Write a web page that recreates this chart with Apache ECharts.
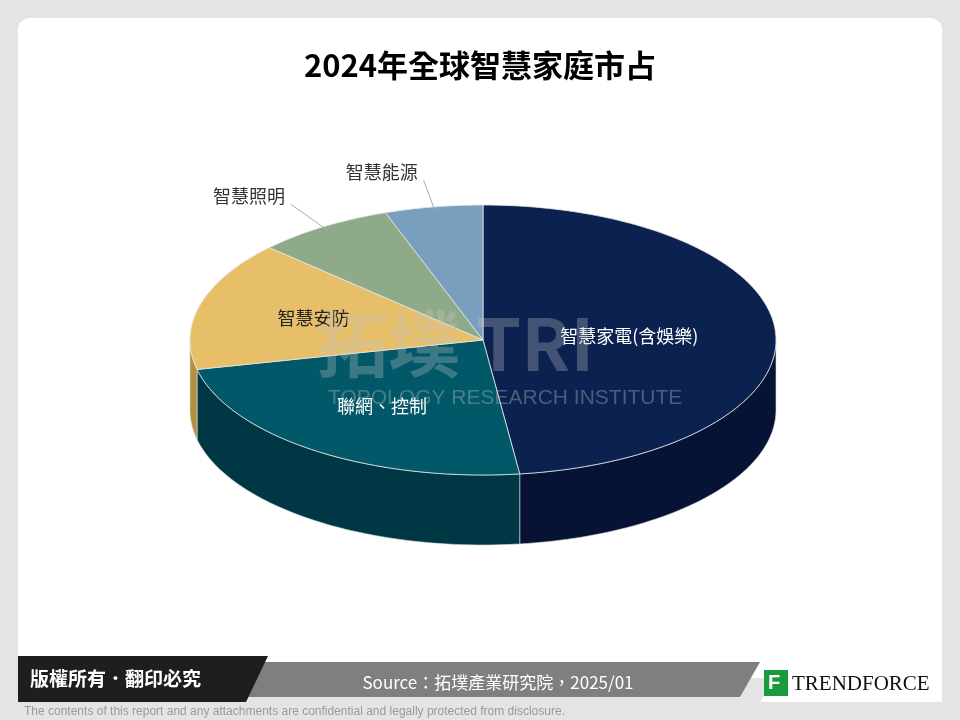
<!DOCTYPE html>
<html><head><meta charset="utf-8">
<script src="https://cdn.jsdelivr.net/npm/echarts@6/dist/echarts.min.js"></script>
<style>html,body{margin:0;padding:0;background:#e4e4e4}#c{width:960px;height:720px}</style>
</head><body><div id="c"></div>
<script>
const categories = ['智慧家電(含娛樂)', '聯網、控制', '智慧安防', '智慧照明', '智慧能源'];
const shares = [48, 23.5, 15.5, 7.6, 5.4];
const topColors = ['#0b2150', '#005868', '#e7bf68', '#8eaa88', '#78a0be'];
const sideColors = ['#061334', '#003744', '#b38f42', '#62805d', '#4f7592'];
const labelColors = ['#ffffff', '#ffffff', '#222222', '#222222', '#222222'];

const chart = echarts.init(document.getElementById('c'));
const total = shares.reduce((a, b) => a + b, 0);
const cum = [0];
shares.forEach((v, i) => cum.push(cum[i] + v));
const CX = 483, CY = 340, RX = 293, RY = 135, DEPTH = 70;
const pt = (t, dy, f) => [CX + (f || 1) * RX * Math.sin(t), CY - (f || 1) * RY * Math.cos(t) + (dy || 0)];

function renderItem(params, api) {
  const i = params.dataIndex;
  const s = cum[i] / total * Math.PI * 2, e = cum[i + 1] / total * Math.PI * 2;
  const children = [];
  const a = Math.max(s, Math.PI / 2), b = Math.min(e, Math.PI * 1.5);
  if (b > a) {
    const top = [], bot = [];
    const n = 60;
    for (let k = 0; k <= n; k++) { const t = a + (b - a) * k / n; top.push(pt(t)); bot.push(pt(t, DEPTH)); }
    children.push({ type: 'polygon', shape: { points: top.concat(bot.reverse()) },
      style: { fill: sideColors[i], stroke: '#d8d8d8', lineWidth: 0.6 } });
  }
  const pts = [[CX, CY]];
  const n = Math.max(8, Math.round((e - s) * 40));
  for (let k = 0; k <= n; k++) pts.push(pt(s + (e - s) * k / n));
  children.push({ type: 'polygon', shape: { points: pts }, style: { fill: topColors[i], stroke: '#e6e6e6', lineWidth: 0.8 } });
  const m = (s + e) / 2;
  const pct = shares[i] / total;
  if (pct >= 0.1) {
    const p = pt(m, 0, pct > 0.4 ? 0.5 : 0.6);
    children.push({ type: 'text', x: p[0], y: p[1], z2: 5, style: { text: categories[i], fill: labelColors[i],
      font: '18px "Noto Sans CJK TC"', align: 'center', verticalAlign: 'middle' } });
  } else {
    const p0 = pt(m, 0, 0.97), p1 = pt(m, 0, 1.2);
    children.push({ type: 'polyline', shape: { points: [p0, p1] }, style: { stroke: '#aaaaaa', lineWidth: 1 } });
    children.push({ type: 'text', x: p1[0] - 6, y: p1[1] - 8, style: { text: categories[i], fill: '#333',
      font: '18px "Noto Sans CJK TC"', align: 'right', verticalAlign: 'middle' } });
  }
  return { type: 'group', children };
}

chart.setOption({
  animation: false,
  graphic: [
    { type: 'rect', z: -10, shape: { x: 18, y: 18, width: 924, height: 660, r: 12 }, style: { fill: '#ffffff' } },
    { type: 'text', left: 'center', top: 50, style: { text: '2024年全球智慧家庭市占', fill: '#000',
      font: 'bold 31px "Noto Sans CJK TC"' } },
    { type: 'text', x: 316, y: 308, z: 100, silent: true, style: { text: '拓墣 TRI', fill: 'rgba(200,200,200,0.3)', font: 'bold 72px "Noto Sans CJK TC"' } },
    { type: 'text', x: 328, y: 388, z: 100, silent: true, style: { text: 'TOPOLOGY RESEARCH INSTITUTE', fill: 'rgba(200,200,200,0.35)', font: '21px "Liberation Sans"' } },
    { type: 'polygon', shape: { points: [[250, 662], [760, 662], [740, 697], [232, 697]] }, style: { fill: '#7f7f7f' } },
    { type: 'polygon', shape: { points: [[18, 656], [268, 656], [246, 702], [18, 702]] }, style: { fill: '#1e1e1e' } },
    { type: 'text', x: 30, y: 679, style: { text: '版權所有．翻印必究', fill: '#fff', font: 'bold 19px "Noto Sans CJK TC"', verticalAlign: 'middle' } },
    { type: 'text', x: 498, y: 683, style: { text: 'Source：拓墣產業研究院，2025/01', fill: '#fff', font: '17px "Noto Sans CJK TC"', align: 'center', verticalAlign: 'middle' } },
    { type: 'polygon', shape: { points: [[800, 640], [942, 640], [942, 702], [760, 702]] }, style: { fill: '#ffffff' } },
    { type: 'rect', shape: { x: 764, y: 670, width: 24, height: 26 }, style: { fill: '#1a9a3c' } },
    { type: 'text', x: 768, y: 673, style: { text: 'F', fill: '#fff', font: 'bold 20px "Liberation Sans"' } },
    { type: 'text', x: 792, y: 684, style: { text: 'TRENDFORCE', fill: '#111', font: '21px "Liberation Serif"', verticalAlign: 'middle' } },
    { type: 'text', x: 24, y: 712, style: { text: 'The contents of this report and any attachments are confidential and legally protected from disclosure.', fill: '#9a9a9a', font: '12px "Liberation Sans"', verticalAlign: 'middle' } }
  ],
  series: [{ type: 'custom', coordinateSystem: 'none', renderItem, data: shares.map((v, i) => ({ value: v, name: categories[i] })) }]
});
</script></body></html>
